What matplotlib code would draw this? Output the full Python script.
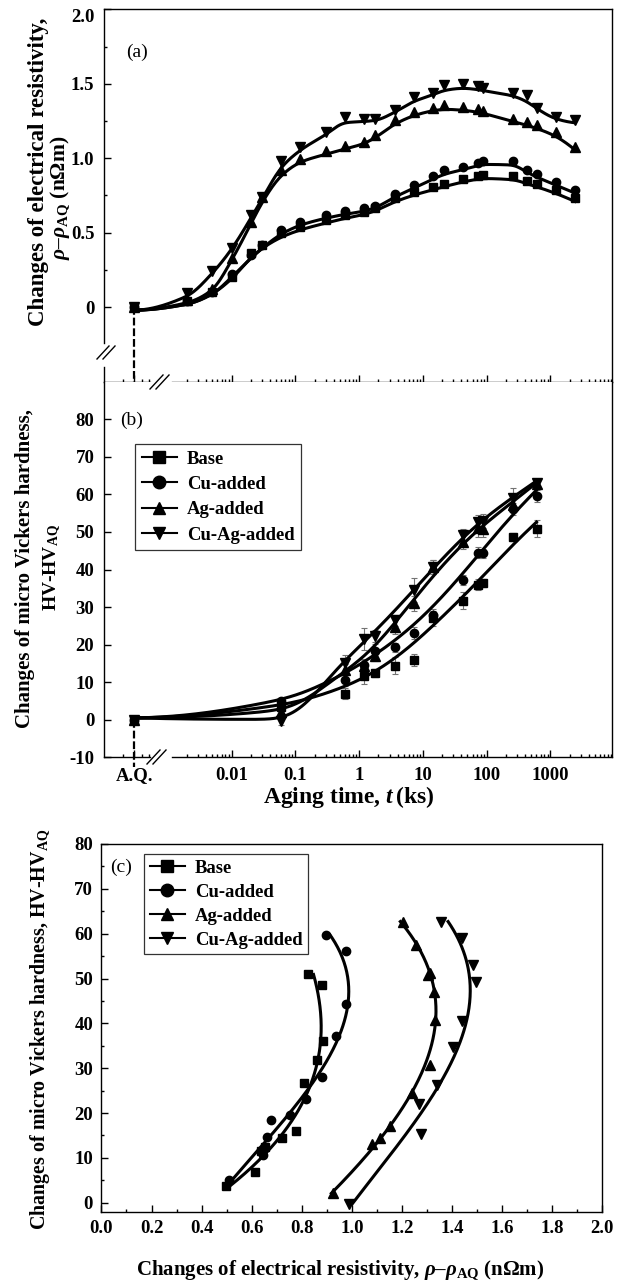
import numpy as np
import matplotlib
matplotlib.use("Agg")
import matplotlib.pyplot as plt
from matplotlib.lines import Line2D
from matplotlib.ticker import FixedLocator, FixedFormatter, NullFormatter

plt.rcParams['font.family'] = ['Liberation Serif', 'DejaVu Serif']
plt.rcParams['mathtext.fontset'] = 'custom'
plt.rcParams['mathtext.rm'] = 'Liberation Serif:bold'
plt.rcParams['mathtext.it'] = 'Liberation Serif:italic:bold'
plt.rcParams['mathtext.bf'] = 'Liberation Serif:bold'
plt.rcParams['axes.unicode_minus'] = False

W, H = 624, 1281
AQ = 3e-4          # where the as-quenched state sits on the log time axis
XMAX = 10 ** 3.96

names = ['Base', 'Cu-added', 'Ag-added', 'Cu-Ag-added']
markers = ['s', 'o', '^', 'v']
msizes = [5.5, 6, 6.5, 6.5]

# (a) electrical resistivity change vs aging time (ks)
t_res = [AQ, 0.002, 0.005, 0.01, 0.02, 0.03, 0.06, 0.12, 0.3, 0.6, 1.2, 1.8, 3.6, 7.2,
         14.4, 21.6, 43.2, 72, 86.4, 259.2, 432, 604.8, 1209.6, 2419.2]
res_base = [0, 0.04, 0.105, 0.20, 0.362, 0.417, 0.495, 0.54, 0.585, 0.618, 0.64, 0.663, 0.73,
            0.774, 0.808, 0.83, 0.864, 0.879, 0.886, 0.879, 0.848, 0.83, 0.786, 0.73]
res_cu = [0, 0.04, 0.10, 0.22, 0.35, 0.417, 0.518, 0.573, 0.618, 0.645, 0.663, 0.679, 0.763,
          0.819, 0.879, 0.92, 0.942, 0.969, 0.982, 0.982, 0.92, 0.893, 0.841, 0.786]
res_ag = [0, 0.05, 0.12, 0.33, 0.57, 0.74, 0.92, 0.998, 1.047, 1.083, 1.112, 1.154, 1.255,
          1.31, 1.34, 1.355, 1.344, 1.333, 1.32, 1.266, 1.243, 1.221, 1.176, 1.076]
res_cuag = [0, 0.094, 0.245, 0.40, 0.618, 0.741, 0.98, 1.076, 1.176, 1.277, 1.266, 1.262, 1.325,
            1.41, 1.437, 1.489, 1.496, 1.484, 1.473, 1.437, 1.422, 1.34, 1.277, 1.259]

# (b) micro Vickers hardness change vs aging time (ks)
t_hv = [AQ, 0.06, 0.6, 1.2, 1.8, 3.6, 7.2, 14.4, 43.2, 72, 86.4, 259.2, 604.8]
hv_base = [0, 3.5, 6.9, 11.6, 12.4, 14.4, 16.0, 27.0, 31.7, 36.0, 36.4, 48.6, 50.9]
hv_cu = [0, 4.9, 10.6, 14.7, 18.3, 19.3, 23.1, 28.0, 37.2, 44.5, 44.3, 56.1, 59.6]
hv_ag = [0, 2.1, 13.3, 14.4, 17.1, 24.7, 31.0, 40.7, 47.4, 51.1, 50.7, 57.3, 62.7]
hv_cuag = [0, -0.4, 15.0, 21.5, 22.3, 26.5, 34.5, 40.6, 49.1, 52.6, 52.9, 59.0, 62.9]
err_base = [0, 1.0, 1.5, 2.0, 1.0, 2.2, 1.6, 2.0, 2.3, 1.5, 1.0, 1.0, 2.2]
err_cu = [0, 1.0, 1.5, 1.5, 1.8, 1.2, 1.5, 1.5, 1.3, 1.5, 1.2, 1.5, 1.5]
err_ag = [0, 1.0, 1.5, 1.5, 1.5, 2.0, 2.0, 1.8, 2.0, 2.5, 2.0, 1.5, 1.0]
err_cuag = [0, 1.0, 2.2, 2.8, 1.5, 1.5, 3.2, 1.8, 1.8, 1.8, 1.8, 2.6, 1.0]

# (c) hardness change vs resistivity change
c_res_base = [0.497, 0.613, 0.637, 0.653, 0.722, 0.776, 0.809, 0.862, 0.883, 0.882, 0.826]
c_hv_base = [3.7, 6.9, 11.6, 12.5, 14.5, 16.0, 26.6, 31.8, 36.1, 48.6, 50.9]
c_res_cu = [0.511, 0.645, 0.66, 0.676, 0.753, 0.817, 0.882, 0.935, 0.975, 0.975, 0.897]
c_hv_cu = [5.1, 10.6, 14.7, 18.4, 19.6, 23.1, 28.1, 37.2, 44.3, 56.2, 59.7]
c_res_ag = [0.926, 1.079, 1.112, 1.152, 1.241, 1.312, 1.332, 1.329, 1.312, 1.305, 1.254, 1.202]
c_hv_ag = [2.1, 13.2, 14.4, 17.1, 24.4, 30.7, 40.8, 47.1, 51.2, 50.7, 57.4, 62.7]
c_res_cuag = [0.988, 1.275, 1.269, 1.338, 1.405, 1.441, 1.494, 1.482, 1.438, 1.357]
c_hv_cuag = [-0.3, 15.3, 22.0, 26.3, 34.8, 40.6, 49.3, 53.0, 59.0, 62.7]

res_all = [res_base, res_cu, res_ag, res_cuag]
hv_all = [hv_base, hv_cu, hv_ag, hv_cuag]
err_all = [err_base, err_cu, err_ag, err_cuag]
c_res_all = [c_res_base, c_res_cu, c_res_ag, c_res_cuag]
c_hv_all = [c_hv_base, c_hv_cu, c_hv_ag, c_hv_cuag]


def loess_at(x, y, h, at=None):
    # local linear smoothing, evaluated at the data positions unless told otherwise
    at = x if at is None else at
    out = []
    for x0 in at:
        d2 = ((x - x0) / h) ** 2
        w = np.exp(-0.5 * (d2 - d2.min()))
        A = np.vstack([np.ones_like(x), x - x0]).T
        Aw = A * w[:, None]
        out.append(np.linalg.lstsq(Aw.T @ A, Aw.T @ y, rcond=None)[0][0])
    return np.array(out)


def pchip(x, y, xs):
    hk = np.diff(x)
    dk = np.diff(y) / hk
    n = len(x)
    m = np.zeros(n)
    for k in range(1, n - 1):
        if dk[k - 1] * dk[k] > 0:
            w1 = 2 * hk[k] + hk[k - 1]
            w2 = hk[k] + 2 * hk[k - 1]
            m[k] = (w1 + w2) / (w1 / dk[k - 1] + w2 / dk[k])

    def end(h0, h1, d0, d1):
        v = ((2 * h0 + h1) * d0 - h0 * d1) / (h0 + h1)
        if np.sign(v) != np.sign(d0):
            return 0.0
        if np.sign(d0) != np.sign(d1) and abs(v) > 3 * abs(d0):
            return 3 * d0
        return v
    m[0] = end(hk[0], hk[1], dk[0], dk[1])
    m[-1] = end(hk[-1], hk[-2], dk[-1], dk[-2])
    idx = np.clip(np.searchsorted(x, xs) - 1, 0, n - 2)
    t = (xs - x[idx]) / hk[idx]
    return ((2 * t ** 3 - 3 * t ** 2 + 1) * y[idx] + (t ** 3 - 2 * t ** 2 + t) * hk[idx] * m[idx]
            + (-2 * t ** 3 + 3 * t ** 2) * y[idx + 1] + (t ** 3 - t ** 2) * hk[idx] * m[idx + 1])


def fit_curve(t, v, h, h2):
    # smoothed values at the points, joined by a monotone cubic, then lightly smoothed again
    lx = np.log10(np.asarray(t, float))
    sv = loess_at(lx, np.asarray(v, float), h)
    xs = np.linspace(lx[0], lx[-1], 400)
    ys = pchip(lx, sv, xs)
    return 10 ** xs, loess_at(xs, ys, h2)


def px(x, y):
    return x / W, 1 - y / H


def fig_line(fig, p0, p1, **kw):
    (x0, y0), (x1, y1) = px(*p0), px(*p1)
    fig.add_artist(Line2D([x0, x1], [y0, y1], transform=fig.transFigure, color='k', **kw))


def ax_rect(l, t, r, b):
    return [l / W, 1 - b / H, (r - l) / W, (b - t) / H]


fig = plt.figure(figsize=(W / 100, H / 100), dpi=100)
ax_a = fig.add_axes(ax_rect(104, 9.3, 611.7, 381.7))
ax_b = fig.add_axes(ax_rect(104, 381.7, 611.7, 757.3))
ax_c = fig.add_axes(ax_rect(101.4, 844, 602.4, 1211.7))

tick_font = dict(family='Liberation Serif', weight='bold', size=13.5)
gap_lo, gap_hi = 10 ** -3.28, 10 ** -2.93

major_t = [AQ, 1e-2, 1e-1, 1, 10, 100, 1000]
minor_t = [k * 10.0 ** n for n in range(-4, 4) for k in range(2, 10)]
minor_t = [v for v in minor_t if not (gap_lo < v < gap_hi) and v < XMAX and v != AQ]

for ax in (ax_a, ax_b):
    ax.set_xscale('log')
    ax.set_xlim(1e-4, XMAX)
    ax.xaxis.set_major_locator(FixedLocator(major_t))
    ax.xaxis.set_minor_locator(FixedLocator(minor_t))
    ax.xaxis.set_minor_formatter(NullFormatter())
    ax.spines['bottom'].set_visible(False)
    ax.tick_params(which='both', direction='in', top=False, right=False, width=1)
    ax.tick_params(which='major', length=5, pad=7)
    ax.tick_params(which='minor', length=2.5)
    for s in ax.spines.values():
        s.set_linewidth(1)
    tr = ax.get_xaxis_transform()
    ax.plot([1e-4, gap_lo], [0, 0], color='k', lw=1, transform=tr, clip_on=False)
    ax.plot([gap_hi, XMAX], [0, 0], color='k', lw=1, transform=tr, clip_on=False)

# ---- (a)
ax_a.set_ylim(-0.5, 2.0)
ax_a.yaxis.set_major_locator(FixedLocator([0, 0.5, 1.0, 1.5, 2.0]))
ax_a.yaxis.set_major_formatter(FixedFormatter(['0', '0.5', '1.0', '1.5', '2.0']))
ax_a.yaxis.set_minor_locator(FixedLocator([0.25, 0.75, 1.25, 1.75]))
ax_a.xaxis.set_major_formatter(NullFormatter())
ax_a.spines['left'].set_visible(False)
ytr = ax_a.get_yaxis_transform()
ax_a.plot([0, 0], [2.0, -0.24], color='k', lw=1, transform=ytr, clip_on=False)
ax_a.plot([0, 0], [-0.40, -0.5], color='k', lw=1, transform=ytr, clip_on=False)
for lab in ax_a.get_yticklabels():
    lab.set_fontproperties(tick_font)

for i in [3, 2, 1, 0]:
    cx, cy = fit_curve(t_res, res_all[i], 0.17, 0.07)
    ax_a.plot(cx, cy - 0.02, color='k', lw=2.2, zorder=3)
    ax_a.plot(t_res, res_all[i], ls='none', marker=markers[i], ms=msizes[i], color='k', zorder=4)
ax_a.plot([AQ, AQ], [0, -0.54], color='k', lw=1.6, dashes=(3.5, 1.3), clip_on=False, zorder=5)
ax_a.text(137 / W, 1 - 52 / H, '(a)', transform=fig.transFigure, fontsize=14,
          ha='center', va='center')

# ---- (b)
ax_b.set_ylim(-10, 90)
ax_b.yaxis.set_major_locator(FixedLocator(list(range(-10, 81, 10))))
ax_b.yaxis.set_minor_locator(FixedLocator([]))
ax_b.xaxis.set_major_formatter(FixedFormatter(['A.Q.', '0.01', '0.1', '1', '10', '100', '1000']))
ax_b.spines['top'].set_visible(False)
for lab in ax_b.get_yticklabels() + ax_b.get_xticklabels():
    lab.set_fontproperties(tick_font)

for i in [3, 2, 1, 0]:
    cx, cy = fit_curve(t_hv, hv_all[i], 0.5, 0.22)
    ax_b.plot(cx, cy + 0.5, color='k', lw=2.2, zorder=3)
    ax_b.errorbar(t_hv[1:], hv_all[i][1:], yerr=err_all[i][1:], fmt='none', ecolor='0.45',
                  elinewidth=0.8, capsize=2.5, capthick=0.8, zorder=2)
    ax_b.plot(t_hv, hv_all[i], ls='none', marker=markers[i], ms=msizes[i], color='k', zorder=4)
ax_b.plot([AQ, AQ], [0, -12.5], color='k', lw=1.6, dashes=(3.5, 1.3), clip_on=False, zorder=5)
ax_b.text(132 / W, 1 - 420 / H, '(b)', transform=fig.transFigure, fontsize=14,
          ha='center', va='center')

handles = [Line2D([], [], color='k', lw=1.5, marker=m, ms=9) for m in markers]
leg_font = dict(family='Liberation Serif', weight='bold', size=13.4)
leg = ax_b.legend(handles, names, loc='upper left', bbox_to_anchor=px(135, 444),
                  bbox_transform=fig.transFigure, prop=leg_font, frameon=True, fancybox=False,
                  edgecolor='k', borderpad=0.35, handlelength=1.9, handletextpad=0.55,
                  labelspacing=0.45, borderaxespad=0)
leg.get_frame().set_linewidth(0.9)

# ---- (c)
ax_c.set_xlim(0, 2.0)
ax_c.set_ylim(-2, 80)
ax_c.xaxis.set_major_locator(FixedLocator(np.round(np.arange(0, 2.01, 0.2), 1)))
ax_c.xaxis.set_major_formatter(FixedFormatter(['%.1f' % v for v in np.arange(0, 2.01, 0.2)]))
ax_c.xaxis.set_minor_locator(FixedLocator(np.arange(0.1, 2.0, 0.2)))
ax_c.yaxis.set_major_locator(FixedLocator(list(range(0, 81, 10))))
ax_c.yaxis.set_minor_locator(FixedLocator(list(range(5, 80, 10))))
ax_c.tick_params(which='both', direction='in', top=False, right=False, width=1)
ax_c.tick_params(which='major', length=5, pad=6)
ax_c.tick_params(which='minor', length=2.5)
for s in ax_c.spines.values():
    s.set_linewidth(1)
for lab in ax_c.get_yticklabels() + ax_c.get_xticklabels():
    lab.set_fontproperties(tick_font)

for i in range(4):
    hv = np.asarray(c_hv_all[i])
    cf = np.polyfit(hv, c_res_all[i], 3)
    hs = np.linspace(hv.min(), hv.max(), 200)
    ax_c.plot(np.polyval(cf, hs), hs, color='k', lw=2.2, zorder=3)
    ax_c.plot(c_res_all[i], c_hv_all[i], ls='none', marker=markers[i], ms=msizes[i],
              color='k', zorder=4)
ax_c.text(121 / W, 1 - 867 / H, '(c)', transform=fig.transFigure, fontsize=14,
          ha='center', va='center')
leg_c = ax_c.legend(handles, names, loc='upper left', bbox_to_anchor=px(144, 854),
                    bbox_transform=fig.transFigure, prop=leg_font, frameon=True, fancybox=False,
                    edgecolor='k', borderpad=0.3, handlelength=1.9, handletextpad=0.55,
                    labelspacing=0.38, borderaxespad=0)
leg_c.get_frame().set_linewidth(0.9)

# ---- axis labels
lab_kw = dict(fontweight='bold', ha='center', va='center', rotation=90)
fig.text(*px(39, 172), 'Changes of electrical resistivity,', fontsize=16.5, **lab_kw)
fig.text(*px(60, 198), r'$\rho$' + '\u2013' + r'$\rho_{\rm AQ}$' + ' (n\u03a9m)',
         fontsize=15.5, **lab_kw)
fig.text(*px(25, 569), 'Changes of micro Vickers hardness,', fontsize=15, **lab_kw)
fig.text(*px(52, 568), r'HV-HV$_{\rm AQ}$', fontsize=14, **lab_kw)
fig.text(*px(40, 1029), r'Changes of micro Vickers hardness, HV-HV$_{\rm AQ}$',
         fontsize=14.4, **lab_kw)
fig.text(*px(349, 797), r'Aging time, $t\,$(ks)', fontsize=17, fontweight='bold',
         ha='center', va='center')
fig.text(*px(340, 1270), r'Changes of electrical resistivity, $\rho$' + '\u2013' +
         r'$\rho_{\rm AQ}$' + ' (n\u03a9m)', fontsize=15, fontweight='bold',
         ha='center', va='center')

# axis break marks
for x0 in (150, 156):
    fig_line(fig, (x0, 389), (x0 + 13, 375), lw=1)
    fig_line(fig, (x0 - 3, 764), (x0 + 10, 750), lw=1)
for x0 in (97, 103):
    fig_line(fig, (x0, 359), (x0 + 12, 346), lw=1)

# keep the top "2.0" label inside the figure like the original
fig.canvas.draw()
for lab in ax_a.get_yticklabels():
    if lab.get_text() == '2.0':
        lab.set_va('top')

fig.savefig('out.png', dpi=100)
